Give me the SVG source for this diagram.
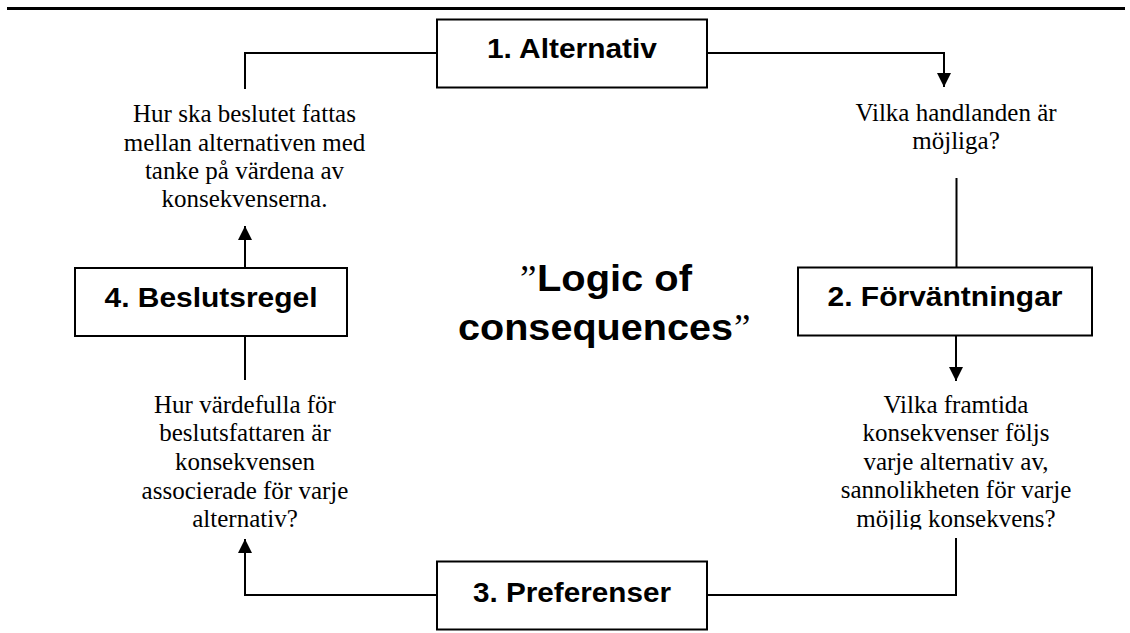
<svg xmlns="http://www.w3.org/2000/svg" width="1130" height="633" viewBox="0 0 1130 633">
  <style>
    .box { fill: #ffffff; stroke: #000000; stroke-width: 2; }
    .label { font-family: "Liberation Sans", Arial, sans-serif; font-weight: bold; font-size: 28px; fill: #000000; text-anchor: middle; }
    .q { font-family: "Liberation Serif", "Times New Roman", serif; font-size: 25px; fill: #000000; text-anchor: middle; }
    .conn { fill: none; stroke: #000000; stroke-width: 2; }
    .arrow { marker-end: url(#head); }
    .title { font-family: "Liberation Sans", Arial, sans-serif; font-weight: bold; font-size: 37px; fill: #000000; }
    .quote { font-family: "Liberation Serif", "Times New Roman", serif; font-size: 37px; fill: #000000; }
  </style>
  <defs>
    <marker id="head" markerUnits="userSpaceOnUse" markerWidth="14" markerHeight="14" refX="14" refY="7" orient="auto">
      <path d="M0,0 L14,7 L0,14 z" fill="#000000"/>
    </marker>
    <clipPath id="clip-exp">
      <rect x="820" y="380" width="280" height="149.5"/>
    </clipPath>
  </defs>

  <rect width="1130" height="633" fill="#ffffff"/>

  <!-- page rule -->
  <line x1="7" y1="8.5" x2="1125" y2="8.5" stroke="#000000" stroke-width="3"/>

  <!-- connectors -->
  <g id="connectors">
    <path class="conn" d="M245,89 V53 H437"/>
    <path class="conn arrow" d="M707,53 H944 V87"/>
    <path class="conn" d="M956.5,178 V267"/>
    <path class="conn arrow" d="M956,335 V381"/>
    <path class="conn" d="M956,538 V595 H707"/>
    <path class="conn arrow" d="M436,595 H245 V539"/>
    <path class="conn" d="M245,336 V380"/>
    <path class="conn arrow" d="M245,268 V226"/>
  </g>

  <g id="node-alternativ">
    <rect class="box" x="437" y="19.5" width="270" height="68"/>
    <text class="label" x="572" y="57.5" textLength="170" lengthAdjust="spacingAndGlyphs">1. Alternativ</text>
  </g>

  <g id="node-forvantningar">
    <rect class="box" x="798" y="267.5" width="294" height="68"/>
    <text class="label" x="945" y="306" textLength="235" lengthAdjust="spacingAndGlyphs">2. Förväntningar</text>
  </g>

  <g id="node-preferenser">
    <rect class="box" x="437" y="561.5" width="270" height="68"/>
    <text class="label" x="572" y="601.5" textLength="198" lengthAdjust="spacingAndGlyphs">3. Preferenser</text>
  </g>

  <g id="node-beslutsregel">
    <rect class="box" x="75" y="268" width="272" height="68"/>
    <text class="label" x="211" y="306.5" textLength="213" lengthAdjust="spacingAndGlyphs">4. Beslutsregel</text>
  </g>

  <g id="question-alternativ">
    <text class="q" x="956" y="120.7">Vilka handlanden är</text>
    <text class="q" x="956" y="148.5">möjliga?</text>
  </g>

  <g id="question-forvantningar" clip-path="url(#clip-exp)">
    <text class="q" x="956" y="413">Vilka framtida</text>
    <text class="q" x="956" y="441.3">konsekvenser följs</text>
    <text class="q" x="956" y="469.7">varje alternativ av,</text>
    <text class="q" x="956" y="498">sannolikheten för varje</text>
    <text class="q" x="956" y="526.5">möjlig konsekvens?</text>
  </g>

  <g id="question-preferenser">
    <text class="q" x="245" y="412.7">Hur värdefulla för</text>
    <text class="q" x="245" y="441.3">beslutsfattaren är</text>
    <text class="q" x="245" y="470">konsekvensen</text>
    <text class="q" x="245" y="498.7">associerade för varje</text>
    <text class="q" x="245" y="527.3">alternativ?</text>
  </g>

  <g id="question-beslutsregel">
    <text class="q" x="244.5" y="122.3">Hur ska beslutet fattas</text>
    <text class="q" x="244.5" y="150.7">mellan alternativen med</text>
    <text class="q" x="244.5" y="179.3">tanke på värdena av</text>
    <text class="q" x="244.5" y="207">konsekvenserna.</text>
  </g>

  <g id="title">
    <text class="quote" x="520" y="291">”</text>
    <text class="title" x="537" y="291" textLength="155" lengthAdjust="spacingAndGlyphs">Logic of</text>
    <text class="title" x="458" y="340" textLength="275" lengthAdjust="spacingAndGlyphs">consequences</text>
    <text class="quote" x="734" y="340">”</text>
  </g>
</svg>
